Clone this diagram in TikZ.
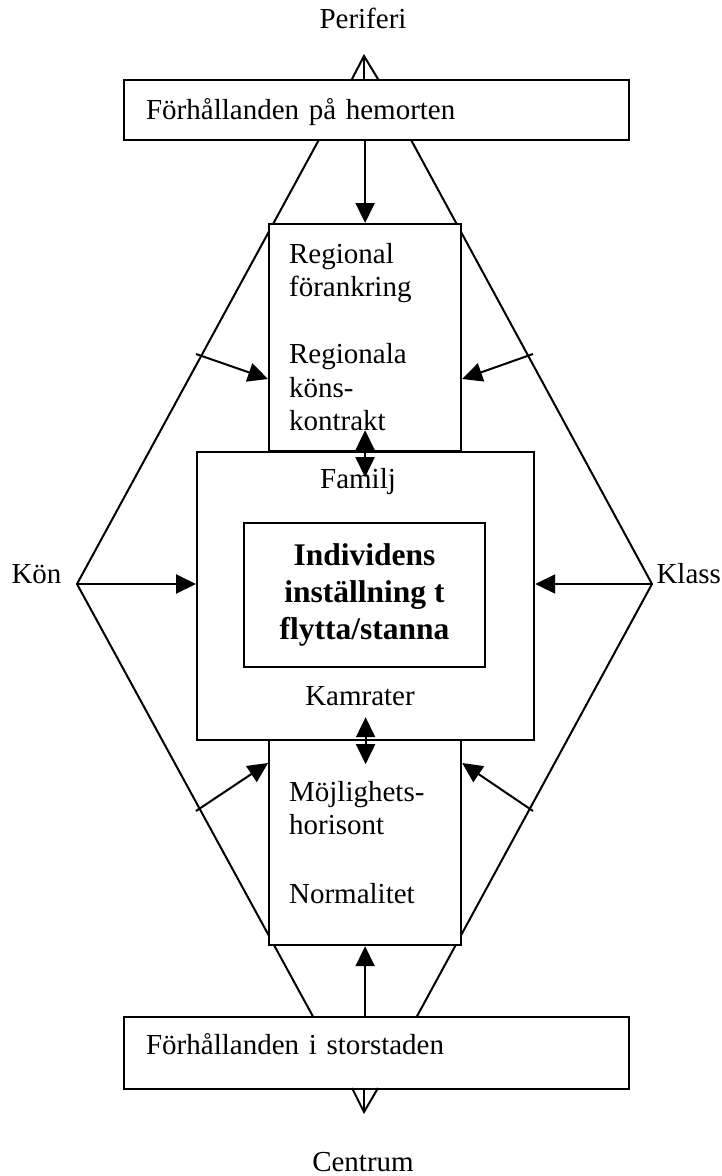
\documentclass[tikz,border=0pt]{standalone}
\usepackage{fontspec}
\setmainfont{Liberation Serif}
\usepackage{tikz}
\usetikzlibrary{arrows.meta,calc,positioning}

\begin{document}
\begin{tikzpicture}[x=1pt,y=-1pt,
  box/.style={draw,line width=2.2pt,fill=white,inner sep=0pt,anchor=north west},
  linie/.style={line width=2pt},
  pfeil/.style={line width=2pt,-{Triangle[length=20pt,width=19pt]}},
  doppelpfeil/.style={line width=2pt,{Triangle[length=20pt,width=19pt]}-{Triangle[length=20pt,width=19pt]}},
  font=\fontsize{29}{33.5}\selectfont]
\useasboundingbox (0,0) rectangle (721,1176);
%Eckpunkte der Raute (Koordinaten in Pixel, y nach unten)
\coordinate (konP) at (77,584);
\coordinate (klassP) at (652,584);
\coordinate (oL) at (352,79);
\coordinate (oR) at (378,79);
\coordinate (uL) at (352,1088);
\coordinate (uR) at (378,1088);
\coordinate (spitzeO) at (364,56);
\coordinate (spitzeU) at (364,1112);
\draw[linie] (oL) -- (konP) -- (uL);
\draw[linie] (oR) -- (klassP) -- (uR);
%Kaesten
\node[box,text width=461pt,inner xsep=22pt,text height=39pt,text depth=21pt,align=left] (hem) at (123,79) {Förhållanden på hemorten};
\node[box,text width=461pt,inner xsep=22pt,text height=37pt,text depth=35pt,align=left] (stad) at (123,1016) {Förhållanden i storstaden};
\node[box,text width=152pt,inner xsep=20pt,text height=39pt,text depth=188pt,align=left] (reg) at (268,223) {Regional\\förankring\\[33.5pt]Regionala\\köns-\\kontrakt};
\node[box,text width=152pt,inner xsep=20pt,text height=61pt,text depth=144pt,align=left] (mh) at (268,739) {Möjlighets-\\horisont\\[35.5pt]Normalitet};
\node[box,minimum width=337pt,minimum height=288pt] (mitt) at (196,451) {};
\node[anchor=base] (fam) at (358,488) {Familj};
\node[anchor=base] (kam) at (360,705) {Kamrater};
\node[box,anchor=center,minimum width=241pt,minimum height=144pt,align=center,font=\fontsize{31.5}{37}\selectfont\bfseries] (ind) at (364.5,595) {Individens\\inställning t\\flytta/stanna};
%Beschriftung aussen
\node[anchor=base] (per) at (363,28) {Periferi};
\node[anchor=base] (cen) at (363,1171) {Centrum};
\node[anchor=base west] (kon) at (8,583) {Kön};
\node[anchor=base west] (klass) at (653,583) {Klass};
%offene Spitzen oben und unten
\draw[linie] (oL) -- (spitzeO) -- (oR);
\draw[linie] (spitzeO) -- (spitzeO |- hem.north);
\draw[linie] (uL) -- (spitzeU) -- (uR);
\draw[linie] (spitzeU) -- (spitzeU |- stad.south);
%Pfeile
\draw[pfeil] (reg.north |- hem.south) -- (reg.north);
\draw[pfeil] (mh.south |- stad.north) -- (mh.south);
\draw[pfeil] (konP) -- (mitt.west |- konP);
\draw[pfeil] (klassP) -- (mitt.east |- klassP);
\draw[doppelpfeil] ($(reg.south)+(0,-22)$) -- ($(reg.south)+(0,25)$);
\draw[doppelpfeil] ($(mitt.south)+(0,-24)$) -- ($(mitt.south)+(0,23)$);
\coordinate (aOL) at (196,354);
\coordinate (aOR) at (533,354);
\coordinate (aUL) at (196,811);
\coordinate (aUR) at (533,811);
\coordinate (eOL) at ($(reg.north west)+(0,156)$);
\coordinate (eOR) at ($(reg.north east)+(0,156)$);
\coordinate (eUL) at ($(mh.north west)+(0,24)$);
\coordinate (eUR) at ($(mh.north east)+(0,24)$);
\foreach \a/\b in {aOL/eOL,aOR/eOR,aUL/eUL,aUR/eUR}{
\draw[pfeil] (\a) -- (\b);
}
\end{tikzpicture}
\end{document}
